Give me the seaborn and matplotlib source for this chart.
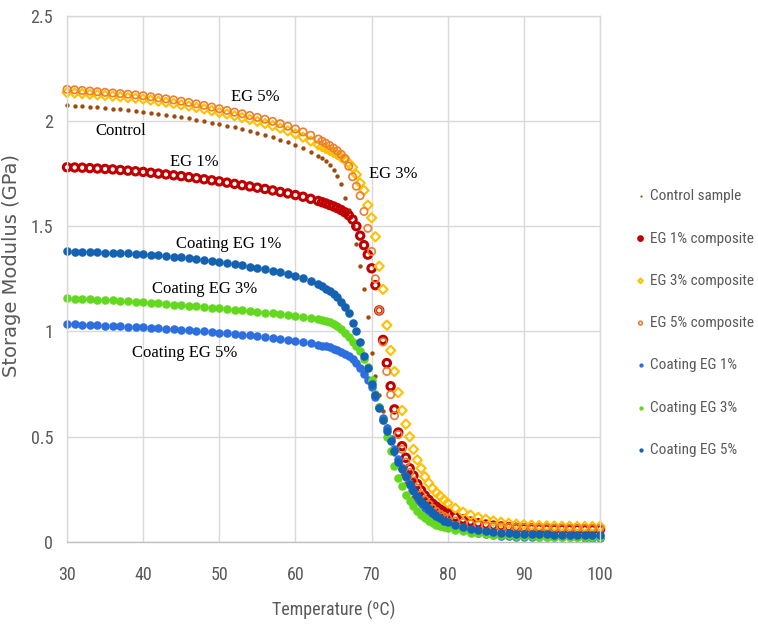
import numpy as np
import pandas as pd
import matplotlib
matplotlib.use('Agg')
import matplotlib.pyplot as plt
from matplotlib.ticker import FuncFormatter
import seaborn as sns

# temperature (C) at which each reading was taken
temps = [30, 31, 32, 33, 34, 35, 36, 37, 38, 39,
         40, 41, 42, 43, 44, 45, 46, 47, 48, 49,
         50, 51, 52, 53, 54, 55, 56, 57, 58, 59,
         60, 61, 62, 63,
         63.5, 64, 64.5, 65, 65.5, 66, 66.5, 67, 67.5, 68,
         68.5, 69, 69.5, 70, 70.5, 71, 71.5, 72, 72.5, 73,
         73.5, 74, 74.5, 75, 75.5, 76, 76.5, 77, 77.5, 78,
         78.5, 79, 79.5, 80,
         81, 82, 83, 84, 85, 86, 87, 88, 89, 90,
         91, 92, 93, 94, 95, 96, 97, 98, 99, 100]

# storage modulus (GPa)
control = [2.075, 2.073, 2.070, 2.067, 2.064, 2.061, 2.058, 2.055, 2.052, 2.048,
           2.044, 2.039, 2.034, 2.029, 2.024, 2.018, 2.012, 2.006, 1.999, 1.992,
           1.985, 1.977, 1.969, 1.961, 1.952, 1.943, 1.933, 1.922, 1.911, 1.899,
           1.886, 1.870, 1.853, 1.835,
           1.822, 1.808, 1.790, 1.765, 1.740, 1.700, 1.635, 1.575, 1.500, 1.415,
           1.310, 1.200, 1.070, 0.900, 0.790, 0.700, 0.620, 0.550, 0.480, 0.420,
           0.370, 0.320, 0.280, 0.245, 0.215, 0.190, 0.170, 0.150, 0.135, 0.120,
           0.110, 0.100, 0.092, 0.085,
           0.075, 0.068, 0.063, 0.060, 0.058, 0.056, 0.055, 0.054, 0.053, 0.052,
           0.052, 0.051, 0.051, 0.050, 0.050, 0.050, 0.050, 0.049, 0.049, 0.049]

eg1 = [1.780, 1.779, 1.778, 1.776, 1.774, 1.772, 1.770, 1.767, 1.764, 1.761,
       1.758, 1.754, 1.750, 1.746, 1.742, 1.738, 1.733, 1.728, 1.723, 1.718,
       1.713, 1.707, 1.701, 1.695, 1.689, 1.683, 1.677, 1.670, 1.663, 1.656,
       1.648, 1.640, 1.630, 1.620,
       1.614, 1.608, 1.601, 1.594, 1.586, 1.577, 1.566, 1.552, 1.532, 1.500,
       1.455, 1.410, 1.365, 1.300, 1.220, 1.100, 0.960, 0.850, 0.740, 0.630,
       0.520, 0.455, 0.400, 0.350, 0.315, 0.275, 0.245, 0.220, 0.200, 0.182,
       0.168, 0.155, 0.145, 0.136,
       0.120, 0.107, 0.097, 0.089, 0.083, 0.078, 0.074, 0.071, 0.068, 0.066,
       0.065, 0.064, 0.063, 0.062, 0.062, 0.061, 0.061, 0.060, 0.060, 0.060]

eg3 = [2.135, 2.133, 2.130, 2.127, 2.124, 2.121, 2.118, 2.115, 2.111, 2.108,
       2.104, 2.099, 2.094, 2.089, 2.083, 2.077, 2.071, 2.064, 2.057, 2.049,
       2.041, 2.033, 2.025, 2.016, 2.007, 1.998, 1.988, 1.978, 1.966, 1.953,
       1.939, 1.923, 1.905, 1.886,
       1.878, 1.869, 1.860, 1.850, 1.840, 1.828, 1.815, 1.800, 1.780, 1.745,
       1.705, 1.670, 1.600, 1.540, 1.450, 1.310, 1.200, 1.030, 0.910, 0.810,
       0.710, 0.625, 0.560, 0.500, 0.440, 0.390, 0.350, 0.310, 0.280, 0.255,
       0.235, 0.218, 0.200, 0.185,
       0.160, 0.142, 0.128, 0.117, 0.108, 0.100, 0.094, 0.089, 0.085, 0.082,
       0.080, 0.078, 0.077, 0.076, 0.075, 0.075, 0.074, 0.074, 0.074, 0.074]

eg5 = [2.150, 2.148, 2.145, 2.142, 2.139, 2.136, 2.133, 2.130, 2.127, 2.124,
       2.120, 2.115, 2.110, 2.105, 2.100, 2.094, 2.088, 2.081, 2.074, 2.066,
       2.058, 2.050, 2.042, 2.034, 2.026, 2.017, 2.008, 1.998, 1.987, 1.975,
       1.962, 1.948, 1.932, 1.914,
       1.904, 1.894, 1.883, 1.871, 1.858, 1.842, 1.822, 1.785, 1.735, 1.690,
       1.645, 1.570, 1.490, 1.380, 1.250, 1.100, 0.950, 0.810, 0.700, 0.600,
       0.510, 0.440, 0.380, 0.330, 0.290, 0.255, 0.225, 0.200, 0.180, 0.160,
       0.145, 0.132, 0.122, 0.113,
       0.100, 0.092, 0.086, 0.081, 0.077, 0.074, 0.072, 0.070, 0.069, 0.068,
       0.067, 0.066, 0.066, 0.065, 0.065, 0.065, 0.064, 0.064, 0.064, 0.064]

coat1 = [1.035, 1.034, 1.032, 1.031, 1.030, 1.028, 1.027, 1.025, 1.023, 1.021,
         1.019, 1.017, 1.015, 1.013, 1.011, 1.008, 1.006, 1.003, 1.000, 0.997,
         0.994, 0.991, 0.988, 0.984, 0.981, 0.977, 0.973, 0.969, 0.965, 0.960,
         0.955, 0.950, 0.944, 0.937,
         0.933, 0.929, 0.925, 0.918, 0.910, 0.903, 0.893, 0.883, 0.870, 0.850,
         0.828, 0.800, 0.770, 0.735, 0.690, 0.640, 0.590, 0.540, 0.490, 0.440,
         0.395, 0.350, 0.310, 0.272, 0.240, 0.210, 0.185, 0.162, 0.143, 0.126,
         0.112, 0.100, 0.090, 0.081,
         0.067, 0.056, 0.048, 0.042, 0.037, 0.033, 0.030, 0.028, 0.026, 0.025,
         0.024, 0.024, 0.023, 0.023, 0.022, 0.022, 0.022, 0.021, 0.021, 0.021]

coat3 = [1.157, 1.156, 1.154, 1.153, 1.151, 1.150, 1.148, 1.146, 1.144, 1.142,
         1.140, 1.137, 1.134, 1.131, 1.128, 1.125, 1.122, 1.119, 1.116, 1.113,
         1.110, 1.107, 1.104, 1.100, 1.097, 1.094, 1.090, 1.087, 1.083, 1.079,
         1.075, 1.070, 1.064, 1.057,
         1.053, 1.049, 1.044, 1.036, 1.025, 1.012, 0.995, 0.975, 0.952, 0.930,
         0.905, 0.870, 0.830, 0.770, 0.705, 0.640, 0.580, 0.500, 0.430, 0.360,
         0.305, 0.265, 0.225, 0.195, 0.170, 0.148, 0.130, 0.115, 0.102, 0.092,
         0.083, 0.076, 0.070, 0.065,
         0.056, 0.050, 0.045, 0.041, 0.038, 0.035, 0.033, 0.031, 0.029, 0.028,
         0.027, 0.026, 0.026, 0.025, 0.025, 0.025, 0.024, 0.024, 0.024, 0.024]

coat5 = [1.380, 1.379, 1.378, 1.377, 1.376, 1.375, 1.374, 1.373, 1.371, 1.369,
         1.367, 1.364, 1.361, 1.358, 1.355, 1.352, 1.348, 1.344, 1.340, 1.335,
         1.330, 1.325, 1.320, 1.314, 1.308, 1.302, 1.296, 1.289, 1.281, 1.273,
         1.264, 1.253, 1.240, 1.224,
         1.214, 1.203, 1.192, 1.178, 1.163, 1.140, 1.115, 1.088, 1.040, 1.000,
         0.950, 0.885, 0.825, 0.750, 0.700, 0.635, 0.580, 0.525, 0.478, 0.430,
         0.380, 0.345, 0.315, 0.275, 0.245, 0.220, 0.195, 0.175, 0.155, 0.140,
         0.125, 0.112, 0.102, 0.093,
         0.080, 0.070, 0.062, 0.056, 0.051, 0.047, 0.044, 0.042, 0.040, 0.039,
         0.038, 0.037, 0.036, 0.035, 0.035, 0.034, 0.034, 0.034, 0.033, 0.033]

series_names = ['Control sample', 'EG 1% composite', 'EG 3% composite', 'EG 5% composite',
                'Coating EG 1%', 'Coating EG 3%', 'Coating EG 5%']

# text written next to the curves
notes = ['EG 5%', 'Control', 'EG 1%', 'EG 3%', 'Coating EG 1%', 'Coating EG 3%', 'Coating EG 5%']
note_x = [51.6, 33.7, 43.5, 69.7, 44.3, 41.2, 38.5]
note_y = [2.113, 1.95, 1.805, 1.75, 1.415, 1.20, 0.90]

sns.set_style('white')
narrow = ['Roboto Condensed', 'Liberation Sans', 'DejaVu Sans']
plt.rcParams['font.family'] = narrow

fig = plt.figure(figsize=(7.58, 6.25), dpi=100)
ax = fig.add_axes([0.0884, 0.1328, 0.7032, 0.8421])

# values, colour, marker, size, filled, edge width
styles = [
    (control, '#a14a0c', 'o', 10, True, 0),
    (eg1, '#c00000', 'o', 28, False, 2.2),
    (eg3, '#ffc000', 'D', 22, False, 1.5),
    (eg5, '#ed7d31', 'o', 28, False, 1.2),
    (coat1, '#2e6fe0', 'o', 38, True, 0),
    (coat3, '#62d81e', 'o', 38, True, 0),
    (coat5, '#1462b2', 'o', 38, True, 0),
]

for name, (vals, col, mk, size, filled, lw) in zip(series_names, styles):
    df = pd.DataFrame({'T': temps, 'E': vals})
    if filled:
        sns.scatterplot(data=df, x='T', y='E', ax=ax, color=col, marker=mk, s=size,
                        linewidth=0, label=name, clip_on=False, legend=False)
    else:
        sns.scatterplot(data=df, x='T', y='E', ax=ax, marker=mk, s=size,
                        facecolor='none', edgecolor=col, linewidth=lw,
                        label=name, clip_on=False, legend=False)

for s, x, y in zip(notes, note_x, note_y):
    ax.text(x, y, s, family='Liberation Serif', fontsize=12, va='center', ha='left', color='black')

ax.set_xlim(30, 100)
ax.set_ylim(0, 2.5)
ax.set_xticks([30, 40, 50, 60, 70, 80, 90, 100])
ax.set_yticks([0, 0.5, 1, 1.5, 2, 2.5])
ax.yaxis.set_major_formatter(FuncFormatter(lambda v, p: '%g' % v))
ax.grid(True, color='#d9d9d9', lw=1)
ax.set_axisbelow(True)
for sp in ax.spines.values():
    sp.set_color('#d9d9d9')
    sp.set_linewidth(1)
ax.spines['bottom'].set_color('#bfbfbf')
ax.tick_params(axis='both', length=0, labelsize=13, colors='#595959')
ax.tick_params(axis='x', pad=17)
ax.tick_params(axis='y', pad=10)

ax.set_xlabel('Temperature (ºC)', fontsize=13, color='#595959')
ax.xaxis.set_label_coords(0.5, -0.112)
ax.set_ylabel('Storage Modulus (GPa)', fontsize=14, color='#595959', family='DejaVu Sans')
ax.yaxis.set_label_coords(-0.087, 0.525)

if ax.get_legend() is not None:
    ax.get_legend().remove()
handles, labels = ax.get_legend_handles_labels()
fig.legend(handles, labels, loc='center left', bbox_to_anchor=(0.839, 0.483),
           frameon=False, labelspacing=1.85, handletextpad=0.3, handlelength=0.6,
           fontsize=11, labelcolor='#595959', markerscale=0.5, borderpad=0,
           borderaxespad=0)

fig.savefig('out.png', dpi=100)
